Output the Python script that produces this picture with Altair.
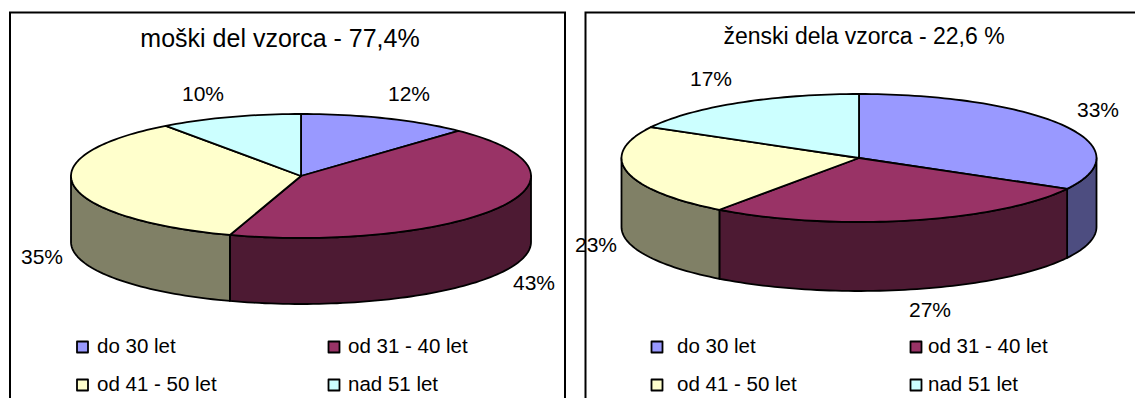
import math
import altair as alt
import pandas as pd

# Age shares per sample part, in percent
categories = ["do 30 let", "od 31 - 40 let", "od 41 - 50 let", "nad 51 let"]
male_shares = [12, 43, 35, 10]
female_shares = [33, 27, 23, 17]
titles = ["moški del vzorca - 77,4%", "ženski dela vzorca - 22,6 %"]

top_colors = ["#9999FF", "#993366", "#FFFFCC", "#CCFFFF"]
side_colors = ["#4D4D80", "#4D1A33", "#808066", "#668080"]

W, H = 1135, 398
x_scale = alt.Scale(domain=[0, W], range=[0, W], nice=False, zero=False)
y_scale = alt.Scale(domain=[0, H], range=[0, H], nice=False, zero=False)


def polygon(points, fill, width=1.8):
    """One closed outlined shape, drawn as a filled line mark."""
    df = pd.DataFrame(points, columns=["x", "y"])
    df["i"] = range(len(df))
    return alt.Chart(df).mark_line(
        interpolate="linear-closed", fill=fill, stroke="black", strokeWidth=width,
        strokeJoin="round",
    ).encode(
        x=alt.X("x:Q", scale=x_scale, axis=None),
        y=alt.Y("y:Q", scale=y_scale, axis=None),
        order=alt.Order("i:Q"),
    )


def tilted_pie(shares, cx, cy, a, b, depth):
    """Tilted pie: walls of the front half first, then the top face slices."""
    def pt(turn, dy=0.0):
        t = 2 * math.pi * turn
        return (cx + a * math.sin(t), cy - b * math.cos(t) + dy)

    def sweep(start, end, dy=0.0):
        n = max(2, int((end - start) * 240))
        return [pt(start + (end - start) * k / n, dy) for k in range(n + 1)]

    layers = []
    edges = [sum(shares[:k]) / 100 for k in range(len(shares) + 1)]
    for k in range(len(shares)):
        lo, hi = max(edges[k], 0.25), min(edges[k + 1], 0.75)
        if hi > lo:
            layers.append(polygon(sweep(lo, hi) + sweep(lo, hi, depth)[::-1], side_colors[k]))
    for k in range(len(shares)):
        layers.append(polygon([(cx, cy)] + sweep(edges[k], edges[k + 1]), top_colors[k]))
    return layers


def text_layer(rows, size, align):
    df = pd.DataFrame(rows, columns=["x", "y", "label"])
    return alt.Chart(df).mark_text(
        font="Liberation Sans", fontSize=size, align=align, baseline="middle", color="#000000",
    ).encode(
        x=alt.X("x:Q", scale=x_scale, axis=None),
        y=alt.Y("y:Q", scale=y_scale, axis=None),
        text="label:N",
    )


def legend(x_cols, text_cols, rows_y):
    layers = []
    rows = []
    for k, cat in enumerate(categories):
        col, row = k % 2, k // 2
        sx, sy = x_cols[col], rows_y[row]
        s = 5.5
        layers.append(polygon([(sx - s, sy - s), (sx + s, sy - s), (sx + s, sy + s), (sx - s, sy + s)],
                              top_colors[k]))
        rows.append((text_cols[col], sy, cat))
    layers.append(text_layer(rows, 20.5, "left"))
    return layers


def frame_line(points, color, width):
    df = pd.DataFrame(points, columns=["x", "y"])
    df["i"] = range(len(df))
    return alt.Chart(df).mark_line(color=color, strokeWidth=width).encode(
        x=alt.X("x:Q", scale=x_scale, axis=None),
        y=alt.Y("y:Q", scale=y_scale, axis=None),
        order=alt.Order("i:Q"),
    )


def pct(v):
    return f"{v}%"


layers = []
layers += tilted_pie(male_shares, 301, 176, 230, 62, 66)
layers += tilted_pie(female_shares, 859, 158, 237.5, 64, 69)

layers.append(text_layer([(280, 39, titles[0])], 25, "center"))
layers.append(text_layer([(864, 37, titles[1])], 23, "center"))

layers.append(text_layer([
    (409, 95, pct(male_shares[0])), (534, 284, pct(male_shares[1])),
    (42, 258, pct(male_shares[2])), (203, 95, pct(male_shares[3])),
    (1098, 111, pct(female_shares[0])), (930, 311, pct(female_shares[1])),
    (596, 246, pct(female_shares[2])), (711, 80, pct(female_shares[3])),
], 21, "center"))

layers += legend([82.5, 334], [97, 348], [347, 385])
layers += legend([657, 916], [677, 928], [347, 385])

# Panel frames, open at the bottom edge
layers.append(frame_line([(10, 398), (10, 12.5), (565, 12.5), (565, 398)], "black", 2))
layers.append(frame_line([(585.5, 398), (585.5, 12.5), (1135, 12.5)], "black", 2))

chart = alt.layer(*layers).properties(
    width=W, height=H, padding=0, autosize=alt.AutoSizeParams(type="none"),
    background="white",
).configure_view(stroke=None)

chart.save("out.html", embed_options={"renderer": "svg", "actions": False})
